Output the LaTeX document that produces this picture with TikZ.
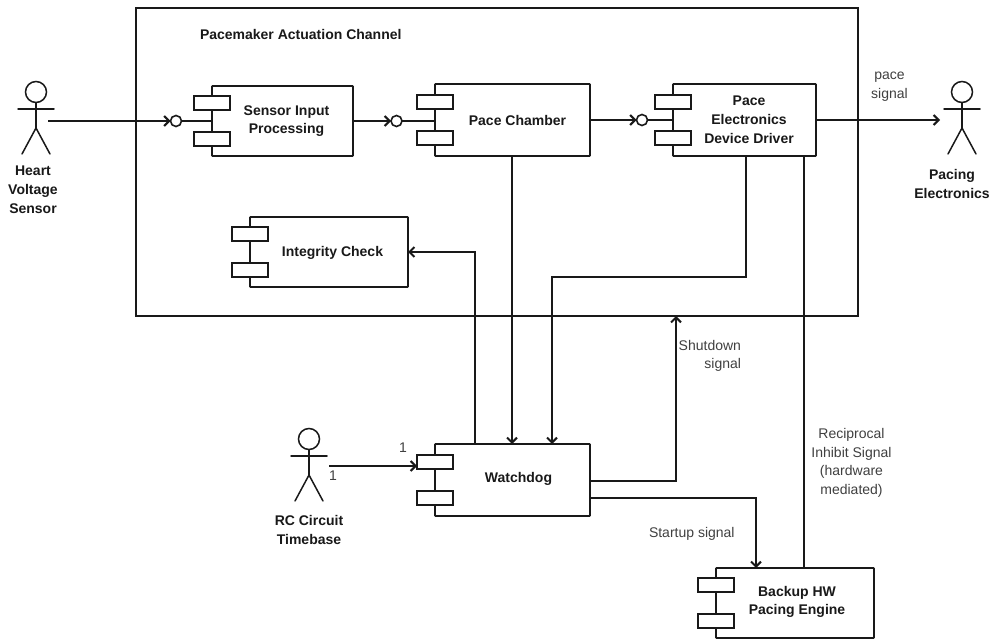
\documentclass[tikz,border=0pt]{standalone}
\usepackage{fontspec}
\setmainfont{Liberation Sans}
\usetikzlibrary{arrows.meta,calc}
\definecolor{ink}{gray}{0.1}
\definecolor{soft}{gray}{0.25}
\tikzset{
  x=1pt,y=-1pt,
  every node/.style={inner sep=0pt,outer sep=0pt,text=ink},
  wire/.style={draw=ink,line width=1.9pt,line join=miter},
  flow/.style={wire,-{Straight Barb[length=5pt,width=10pt,line width=2pt]}},
  body/.style={draw=ink,line width=1.9pt,fill=white,rectangle,rounded corners=0.8pt},
  tabbox/.style={draw=ink,line width=1.9pt,fill=white,rectangle,minimum width=36pt,minimum height=14pt},
  socket/.style={circle,draw=ink,line width=1.6pt,fill=white,minimum size=11pt},
  blabel/.style={font=\fontsize{14}{18.8}\selectfont\bfseries,align=center,text=ink},
  nlabel/.style={font=\fontsize{14}{18.7}\selectfont,align=center,text=soft},
  limb/.style={draw=ink,line width=1.5pt,line cap=round}
}
\newcommand{\compbox}[5]{% name, cx, cy, w, h
  \node[body,minimum width=#4pt,minimum height=#5pt] (#1) at (#2,#3) {};
  \node[tabbox] (#1t) at ($(#1.west)+(0,-18)$) {};
  \node[tabbox] (#1b) at ($(#1.west)+(0,18)$) {};
}
\newcommand{\stick}[3]{% name, x, y of head centre
  \node[circle,draw=ink,line width=1.5pt,minimum size=21pt] (#1) at (#2,#3) {};
  \coordinate (#1hip) at (#2,#3+36);
  \draw[limb] (#1.south) -- (#1hip);
  \draw[limb] (#2-18,#3+17) -- (#2+18,#3+17);
  \draw[limb] (#2-14,#3+62) -- (#1hip) -- (#2+14,#3+62);
}
\begin{document}
\begin{tikzpicture}
\useasboundingbox (0,0) rectangle (990,639);
\fill[white] (0,0) rectangle (990,639);
\node[draw=ink,line width=2pt,minimum width=722pt,minimum height=308pt] (frame) at (497,162) {};
\node[blabel,anchor=west] (title) at (200,34) {Pacemaker Actuation Channel};

\compbox{sensor}{282.5}{121}{141}{70}
\compbox{chamber}{512.5}{120}{155}{72}
\compbox{driver}{744.5}{120}{143}{72}
\compbox{integrity}{329}{252}{158}{70}
\compbox{dog}{512.5}{480}{155}{72}
\compbox{backup}{795}{603}{158}{70}

\node[blabel] (sensorl) at (286.5,121) {Sensor Input\\Processing};
\node[blabel] (chamberl) at (517.5,120) {Pace Chamber};
\node[blabel] (driverl) at (749,119.5) {Pace\\Electronics\\Device Driver};
\node[blabel] (integrityl) at (332.5,253) {Integrity Check};
\node[blabel] (dogl) at (518.5,479) {Watchdog};
\node[blabel] (backupl) at (797,602) {Backup HW\\Pacing Engine};

\stick{heart}{36}{92}
\stick{pacing}{962}{92}
\stick{rc}{309}{439}
\node[blabel] (heartl) at (33,190) {Heart\\Voltage\\Sensor};
\node[blabel] (pacingl) at (952,184) {Pacing\\Electronics};
\node[blabel] (rcl) at (309,530) {RC Circuit\\Timebase};

\coordinate (heartout) at (48,121);
\coordinate (pacingin) at (940,120);
\coordinate (rcout) at (329,466);
\node[socket] (s1) at (176,121) {};
\node[socket] (s2) at (396.5,121) {};
\node[socket] (s3) at (642,120) {};

\draw[flow] (heartout) -- (s1.west);
\draw[wire] (s1.east) -- (s1.east -| sensor.west);
\draw[flow] (s2.west -| sensor.east) -- (s2.west);
\draw[wire] (s2.east) -- (s2.east -| chamber.west);
\draw[flow] (s3.west -| chamber.east) -- (s3.west);
\draw[wire] (s3.east) -- (driver.west);
\draw[flow] (driver.east) -- (pacingin);
\draw[flow] (rcout) -- (rcout -| dogt.west);

\coordinate (chout) at (512,156);
\draw[flow] (chout) -- (chout |- dog.north);
\coordinate (drv) at (746,156);
\coordinate (dogin) at (552,444);
\draw[flow] (drv) -- (746,277) -- (552,277) -- (dogin);
\coordinate (dogup) at (475,444);
\draw[flow] (dogup) -- (475,252) -- (integrity.east);
\coordinate (sd) at (590,481);
\coordinate (fr) at (676,316);
\draw[flow] (sd) -- (676,481) -- (fr);
\coordinate (su) at (590,498);
\coordinate (bk) at (756,568);
\draw[flow] (su) -- (756,498) -- (bk);
\coordinate (inh1) at (804,568);
\coordinate (inh2) at (804,156);
\draw[wire] (inh1) -- (inh2);

\node[nlabel] (pacel) at (889.5,86.5) {pace\\signal};
\node[nlabel,align=right,anchor=east] (shutl) at (741,356) {Shutdown\\signal};
\node[nlabel] (recl) at (851.5,463) {Reciprocal\\Inhibit Signal\\(hardware\\mediated)};
\node[nlabel,anchor=west] (startl) at (649,533.5) {Startup signal};
\node[nlabel] (n1) at (403,448) {1};
\node[nlabel] (n2) at (333,476) {1};
\end{tikzpicture}
\end{document}
